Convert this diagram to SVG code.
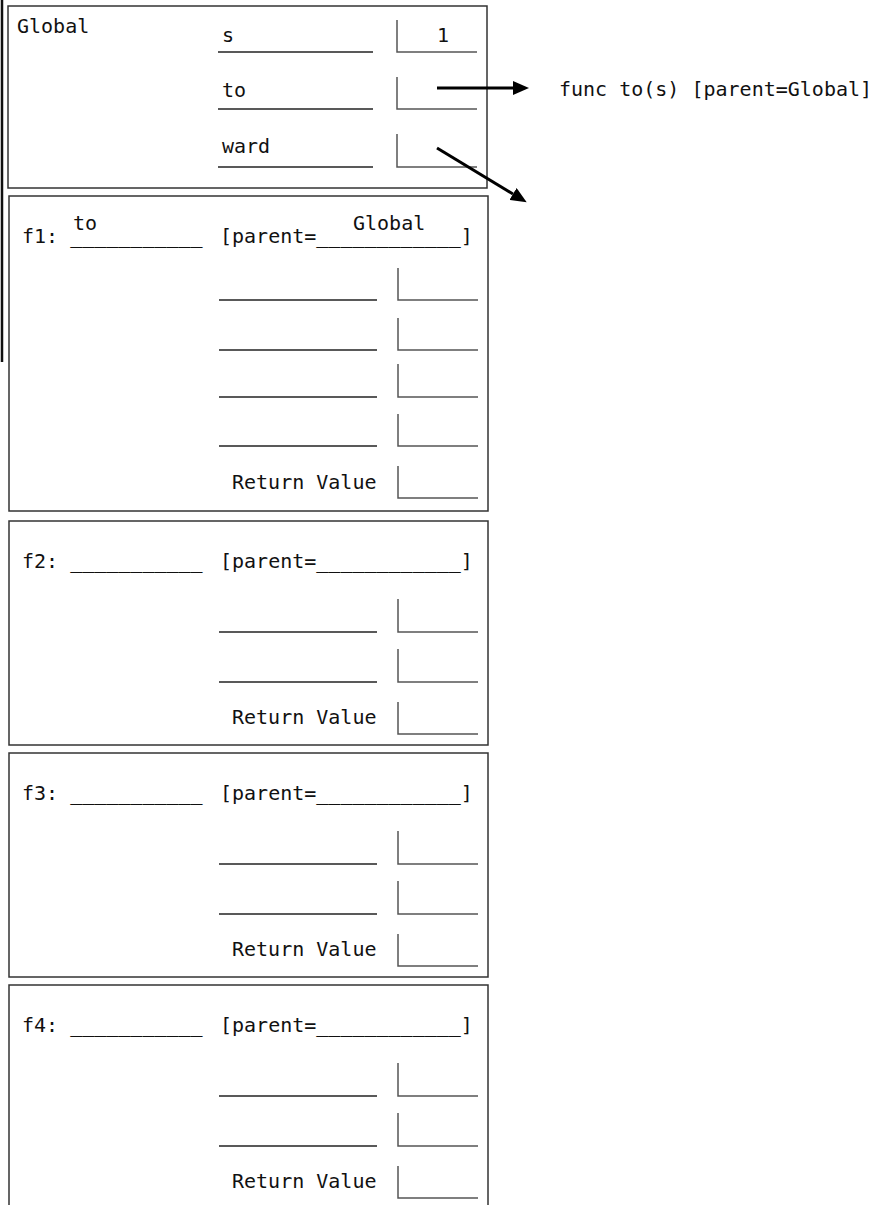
<svg xmlns="http://www.w3.org/2000/svg" width="880" height="1205" viewBox="0 0 880 1205">
<style>
text{font-family:"DejaVu Sans Mono","Liberation Mono",monospace;font-size:20px;fill:#111}
.frame{fill:#fff;stroke:#333;stroke-width:1.5}
.ul{stroke:#222;stroke-width:1.5}
.vb{fill:none;stroke:#555;stroke-width:1.5}
.arr{stroke:#000;stroke-width:3;fill:none}
</style>
<defs>
<marker id="ah" markerUnits="userSpaceOnUse" markerWidth="16" markerHeight="14" viewBox="0 0 16 14" refX="0" refY="7" orient="auto">
<path d="M0,0 L16,7 L0,14 z" fill="#000"/>
</marker>
</defs>
<line x1="2" y1="0" x2="2" y2="362" stroke="#111" stroke-width="2.5"/>
<g id="global">
<rect class="frame" x="8" y="6" width="479" height="182"/>
<text x="17" y="33">Global</text>
<text x="222" y="42">s</text>
<line class="ul" x1="218" y1="52" x2="373" y2="52"/>
<path class="vb" d="M397,20 V52 H477"/>
<text x="437" y="42">1</text>
<text x="222" y="97">to</text>
<line class="ul" x1="218" y1="109" x2="373" y2="109"/>
<path class="vb" d="M397,77 V109 H477"/>
<text x="222" y="153">ward</text>
<line class="ul" x1="218" y1="167" x2="373" y2="167"/>
<path class="vb" d="M397,134 V167 H477"/>
</g>
<g id="func-to">
<text x="559" y="96">func to(s) [parent=Global]</text>
</g>
<g id="f1">
<rect class="frame" x="9" y="196" width="479" height="315"/>
<text x="22" y="243">f1: ___________</text>
<text x="220" y="243">[parent=____________]</text>
<text x="73" y="230">to</text>
<text x="353" y="230">Global</text>
<line class="ul" x1="219" y1="300" x2="377" y2="300"/>
<path class="vb" d="M398,268 V300 H478"/>
<line class="ul" x1="219" y1="350" x2="377" y2="350"/>
<path class="vb" d="M398,318 V350 H478"/>
<line class="ul" x1="219" y1="397" x2="377" y2="397"/>
<path class="vb" d="M398,364 V397 H478"/>
<line class="ul" x1="219" y1="446" x2="377" y2="446"/>
<path class="vb" d="M398,414 V446 H478"/>
<text x="232" y="489">Return Value</text>
<path class="vb" d="M398,466 V498 H478"/>
</g>
<g id="f2">
<rect class="frame" x="9" y="521" width="479" height="224"/>
<text x="22" y="568">f2: ___________</text>
<text x="220" y="568">[parent=____________]</text>
<line class="ul" x1="219" y1="632" x2="377" y2="632"/>
<path class="vb" d="M398,599 V632 H478"/>
<line class="ul" x1="219" y1="682" x2="377" y2="682"/>
<path class="vb" d="M398,649 V682 H478"/>
<text x="232" y="724">Return Value</text>
<path class="vb" d="M398,702 V734 H478"/>
</g>
<g id="f3">
<rect class="frame" x="9" y="753" width="479" height="224"/>
<text x="22" y="800">f3: ___________</text>
<text x="220" y="800">[parent=____________]</text>
<line class="ul" x1="219" y1="864" x2="377" y2="864"/>
<path class="vb" d="M398,831 V864 H478"/>
<line class="ul" x1="219" y1="914" x2="377" y2="914"/>
<path class="vb" d="M398,881 V914 H478"/>
<text x="232" y="956">Return Value</text>
<path class="vb" d="M398,934 V966 H478"/>
</g>
<g id="f4">
<rect class="frame" x="9" y="985" width="479" height="226"/>
<text x="22" y="1032">f4: ___________</text>
<text x="220" y="1032">[parent=____________]</text>
<line class="ul" x1="219" y1="1096" x2="377" y2="1096"/>
<path class="vb" d="M398,1063 V1096 H478"/>
<line class="ul" x1="219" y1="1146" x2="377" y2="1146"/>
<path class="vb" d="M398,1113 V1146 H478"/>
<text x="232" y="1188">Return Value</text>
<path class="vb" d="M398,1166 V1198 H478"/>
</g>
<g id="connectors">
<line class="arr" x1="437" y1="88" x2="513" y2="88" marker-end="url(#ah)"/>
<line class="arr" x1="437" y1="148" x2="513" y2="194" marker-end="url(#ah)"/>
</g>
</svg>
